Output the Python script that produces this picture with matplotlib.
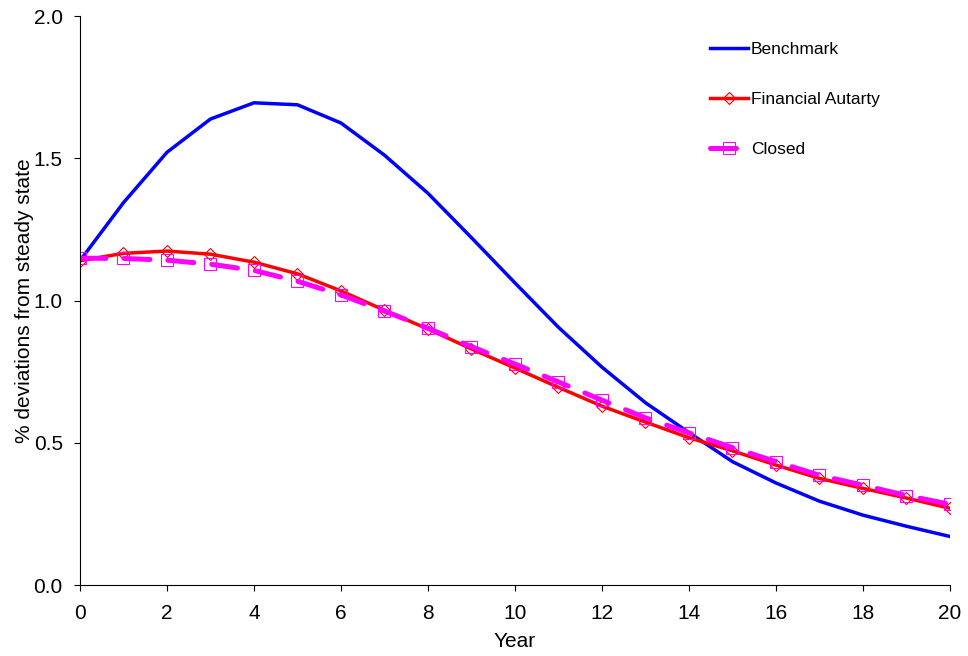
import numpy as np
import matplotlib
matplotlib.use("Agg")
import matplotlib.pyplot as plt

plt.rcParams['font.family'] = ['Liberation Sans', 'DejaVu Sans']

# Impulse responses (% deviations from steady state)
years = np.arange(0, 21)
benchmark = [1.14, 1.344, 1.521, 1.638, 1.695, 1.688, 1.624, 1.511, 1.377, 1.221,
             1.062, 0.906, 0.766, 0.641, 0.536, 0.434, 0.359, 0.295, 0.246, 0.207, 0.171]
autarky = [1.140, 1.166, 1.174, 1.163, 1.135, 1.094, 1.034, 0.966, 0.900, 0.830,
           0.763, 0.695, 0.629, 0.573, 0.518, 0.472, 0.422, 0.375, 0.340, 0.306, 0.270]
closed = [1.149, 1.148, 1.142, 1.128, 1.106, 1.068, 1.020, 0.963, 0.903, 0.838,
          0.777, 0.714, 0.650, 0.588, 0.535, 0.483, 0.434, 0.386, 0.351, 0.315, 0.284]

fig = plt.figure(figsize=(9.68, 6.56), dpi=100)
ax = fig.add_axes([0.0826, 0.108, 0.8988, 0.8676])

ax.plot(years, benchmark, color='#0000ff', lw=2.5, label='Benchmark')
ax.plot(years, autarky, color='#ff0000', lw=2.5, marker='D', markersize=6.5,
        markerfacecolor='none', markeredgecolor='#ff0000', markeredgewidth=0.8,
        label='Financial Autarty')
ax.plot(years, closed, color='#ff00ff', lw=3.6, linestyle=(0, (5.2, 3.6)),
        dash_capstyle='round', marker='s', markersize=8,
        markerfacecolor='none', markeredgecolor='#ff00ff', markeredgewidth=0.8,
        label='Closed')

ax.set_xlim(0, 20)
ax.set_ylim(0, 2.0)
ax.set_xticks(np.arange(0, 21, 2))
ax.set_yticks(np.arange(0, 2.01, 0.5))
ax.yaxis.set_major_formatter(matplotlib.ticker.FormatStrFormatter('%.1f'))
ax.tick_params(direction='out', length=4.3, labelsize=15, width=0.8)
ax.tick_params(axis='x', pad=9)
ax.tick_params(axis='y', pad=8)
for side in ['top', 'right']:
    ax.spines[side].set_visible(False)

ax.set_xlabel('Year', fontsize=15, labelpad=6.5)
ax.set_ylabel('% deviations from steady state', fontsize=15, labelpad=0)

ax.legend(loc='upper left', bbox_to_anchor=(0.7165, 0.966), frameon=False,
          fontsize=12.5, labelspacing=2.0, handlelength=2.2, handletextpad=0.15,
          borderaxespad=0)

fig.savefig('out.png', dpi=100)
